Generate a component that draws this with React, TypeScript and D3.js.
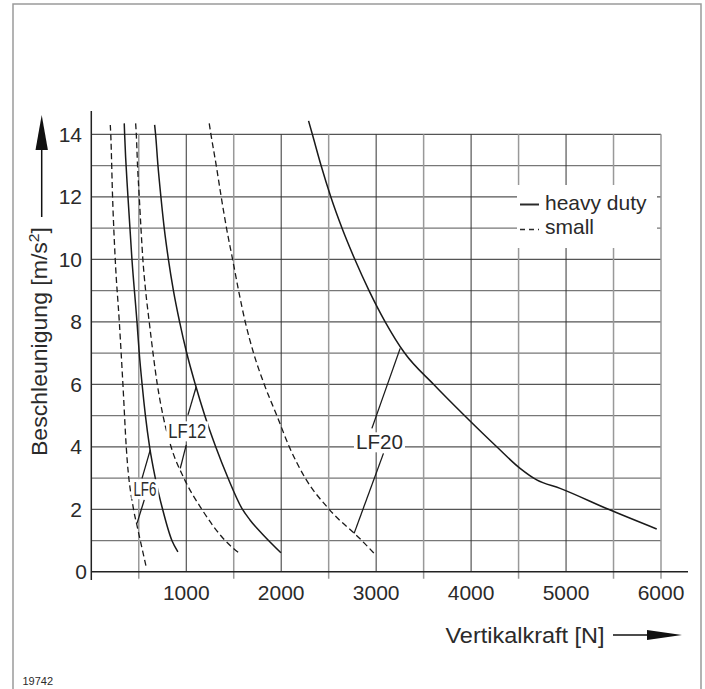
import React from "react";
import * as d3 from "d3";

// Values (Vertikalkraft [N], Beschleunigung [m/s²])
const lf6Small: [number, number][] = [[200,14.3],[205,14],[224,12],[252,10],[295,8],[333,6],[368,4],[445,2],[480,1.5],[516,1],[575,0.2]];
const lf6Heavy: [number, number][] = [[347,14.35],[351,14],[386,12],[428,10],[481,8],[505,7],[535,6],[570,5],[614,4],[674,3],[751,2],[849,1],[912,0.64]];
const lf12Small: [number, number][] = [[467,14.35],[474,14],[487,13],[505,12],[523,11],[543,10],[572,9],[610,8],[650,7],[695,6],[755,5],[840,4],[975,3],[1164,2],[1410,1],[1551,0.61]];
const lf12Heavy: [number, number][] = [[667,14.3],[677,14],[702,13],[733,12],[768,11],[812,10],[865,9],[930,8],[1005,7],[1095,6],[1195,5],[1310,4],[1440,3],[1586,2.03],[1671,1.66],[1811,1.18],[1997,0.61]];
const lf20Small: [number, number][] = [[1242,14.35],[1260,14],[1316,13],[1368,12],[1424,11],[1488,10],[1551,9],[1621,8],[1709,7],[1821,6],[1954,5],[2085,4],[2253,3],[2505,2],[2849,1],[3000,0.52]];
const lf20Heavy: [number, number][] = [[2288,14.43],[2328,14],[2420,13],[2522,12],[2640,11],[2775,10],[2925,9],[3095,8],[3300,7],[3604,6],[3930,5],[4270,4],[4516,3.31],[4691,2.94],[4937,2.67],[5446,2],[5955,1.37]];

const xTicks = [1000, 2000, 3000, 4000, 5000, 6000];
const yTicks = [0, 2, 4, 6, 8, 10, 12, 14];
const xGrid = d3.range(500, 6001, 500);
const yGrid = d3.range(1, 15, 1);

const labels = [
  { text: "LF6", x: 565, y: 2.42, len: 23 },
  { text: "LF12", x: 1011, y: 4.27, len: 38 },
  { text: "LF20", x: 3035, y: 3.92, len: 47 },
];
const leaders: [number, number, number, number][] = [
  [534, 2.99, 621, 3.9],
  [558, 2.3, 481, 1.55],
  [1018, 5.02, 1105, 5.92],
  [1000, 4.06, 937, 3.31],
  [2955, 4.59, 3253, 7.15],
  [3077, 3.79, 2768, 1.23],
];

const xTitle = "Vertikalkraft [N]";
const yTitle = "Beschleunigung [m/s";
const legendItems = ["heavy duty", "small"];

export default function App() {
  const x = d3.scaleLinear().domain([0, 6000]).range([91.3, 661]);
  const y = d3.scaleLinear().domain([0, 14]).range([571.8, 134.3]);
  const line = d3
    .line<[number, number]>()
    .x((d) => x(d[0]))
    .y((d) => y(d[1]))
    .curve(d3.curveMonotoneX);
  const font = "'Liberation Sans', Arial, sans-serif";
  const ink = "#2a2a2a";
  const solids = [lf6Heavy, lf12Heavy, lf20Heavy];
  const dashes = [lf6Small, lf12Small, lf20Small];
  return (
    <svg
      width={705}
      height={689}
      style={{ position: "absolute", left: 0, top: 0, background: "#fff" }}
      fontFamily={font}
    >
      <rect x={0} y={0} width={705} height={689} fill="#fff" />
      <rect x={13} y={4} width={688} height={700} fill="none" stroke="#9a9a9a" strokeWidth={1.5} />

      {/* grid */}
      {yGrid.map((v) => (
        <line
          key={"h" + v}
          x1={x(0)}
          x2={x(6000)}
          y1={y(v)}
          y2={y(v)}
          stroke={v % 2 === 0 ? "#555" : "#777"}
          strokeWidth={v % 2 === 0 ? 1.2 : 1.3}
        />
      ))}
      {xGrid.map((v) => {
        const major = v % 1000 === 0 && v !== 6000;
        return (
          <line
            key={"v" + v}
            x1={x(v)}
            x2={x(v)}
            y1={y(14)}
            y2={major ? y(0) : y(0) + 7}
            stroke={major ? "#333" : "#999"}
            strokeWidth={major ? 1 : 1.5}
          />
        );
      })}

      {/* legend box */}
      <rect x={517} y={185} width={140} height={63} fill="#fff" />
      <line x1={520} x2={539} y1={204.5} y2={204.5} stroke={ink} strokeWidth={2} />
      <line x1={520} x2={539} y1={229.5} y2={229.5} stroke={ink} strokeWidth={1.3} strokeDasharray="5,4" />
      {legendItems.map((t, i) => (
        <text key={t} x={545} y={209.5 + i * 24.5} fontSize={21} fill={ink}>
          {t}
        </text>
      ))}

      {/* axes */}
      <line x1={x(0)} x2={x(0)} y1={111} y2={580} stroke="#222" strokeWidth={1.5} />
      <line x1={x(0)} x2={688} y1={y(0)} y2={y(0)} stroke="#222" strokeWidth={1.5} />

      {yTicks.map((v) => (
        <text key={"yt" + v} x={v === 0 ? 87 : 82} y={y(v) + 7.5} textAnchor="end" fontSize={21} fill={ink}>
          {v}
        </text>
      ))}
      {xTicks.map((v) => (
        <text key={"xt" + v} x={x(v)} y={599.5} textAnchor="middle" fontSize={21} fill={ink}>
          {v}
        </text>
      ))}

      {/* curves */}
      {solids.map((d, i) => (
        <path key={"s" + i} d={line(d) || ""} fill="none" stroke="#1a1a1a" strokeWidth={1.5} />
      ))}
      {dashes.map((d, i) => (
        <path key={"d" + i} d={line(d) || ""} fill="none" stroke="#1a1a1a" strokeWidth={1.3} strokeDasharray="6,3.5" />
      ))}

      {/* curve labels */}
      {labels.map((l) => (
        <rect
          key={"bg" + l.text}
          x={x(l.x) - l.len / 2 - 2}
          y={y(l.y) - 17}
          width={l.len + 4}
          height={20}
          fill="#fff"
        />
      ))}
      {leaders.map((s, i) => (
        <line key={"ld" + i} x1={x(s[0])} y1={y(s[1])} x2={x(s[2])} y2={y(s[3])} stroke="#1a1a1a" strokeWidth={1.3} />
      ))}
      {labels.map((l) => (
        <text
          key={l.text}
          x={x(l.x) - l.len / 2}
          y={y(l.y)}
          fontSize={21}
          fill={ink}
          textLength={l.len}
          lengthAdjust="spacingAndGlyphs"
        >
          {l.text}
        </text>
      ))}

      {/* axis titles */}
      <text x={445.5} y={643} fontSize={22} fill={ink} textLength={159} lengthAdjust="spacingAndGlyphs">
        {xTitle}
      </text>
      <line x1={613} x2={648} y1={635} y2={635} stroke="#111" strokeWidth={1.5} />
      <polygon points="647,630 682,635 647,640" fill="#111" />

      <text transform="translate(47,456) rotate(-90)" fontSize={22} fill={ink} textLength={229} lengthAdjust="spacingAndGlyphs">
        {yTitle}
        <tspan fontSize={15} dy={-8}>2</tspan>
        <tspan dy={8}>]</tspan>
      </text>
      <line x1={41.7} x2={41.7} y1={217} y2={149} stroke="#111" strokeWidth={1.5} />
      <polygon points="41.7,115 35.5,150 47.9,150" fill="#111" />

      <text x={22.5} y={685} fontSize={11} fill={ink}>
        19742
      </text>
    </svg>
  );
}
